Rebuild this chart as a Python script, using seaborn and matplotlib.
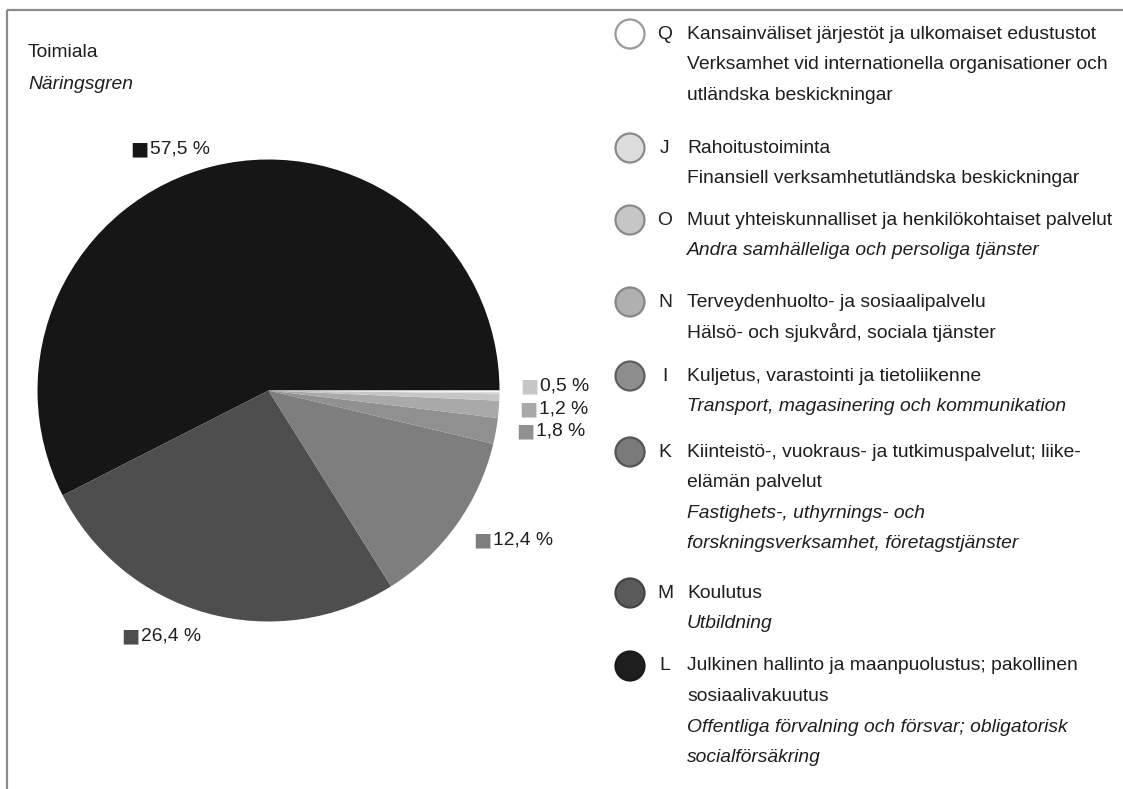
import matplotlib
matplotlib.use("Agg")
import numpy as np
import matplotlib.pyplot as plt
import seaborn as sns
from matplotlib import font_manager
from matplotlib.patches import Circle

# ------------------------------------------
# data
# ------------------------------------------
codes = ["L", "M", "K", "I", "N", "O", "J", "Q"]
shares = [57.5, 26.4, 12.4, 1.8, 1.2, 0.5, 0.1, 0.1]
share_labels = ["57,5 %", "26,4 %", "12,4 %", "1,8 %", "1,2 %", "0,5 %", "", ""]
slice_colors = ["#161616", "#4e4e4e", "#7e7e7e", "#909090", "#a9a9a9", "#c6c6c6", "#dedede", "#f6f6f6"]

legend_codes = ["Q", "J", "O", "N", "I", "K", "M", "L"]
legend_fi = [
    "Kansainväliset järjestöt ja ulkomaiset edustustot",
    "Rahoitustoiminta",
    "Muut yhteiskunnalliset ja henkilökohtaiset palvelut",
    "Terveydenhuolto- ja sosiaalipalvelu",
    "Kuljetus, varastointi ja tietoliikenne",
    "Kiinteistö-, vuokraus- ja tutkimuspalvelut; liike-\nelämän palvelut",
    "Koulutus",
    "Julkinen hallinto ja maanpuolustus; pakollinen\nsosiaalivakuutus",
]
legend_sv = [
    "Verksamhet vid internationella organisationer och\nutländska beskickningar",
    "Finansiell verksamhetutländska beskickningar",
    "Andra samhälleliga och persoliga tjänster",
    "Hälsö- och sjukvård, sociala tjänster",
    "Transport, magasinering och kommunikation",
    "Fastighets-, uthyrnings- och\nforskningsverksamhet, företagstjänster",
    "Utbildning",
    "Offentliga förvalning och försvar; obligatorisk\nsocialförsäkring",
]
legend_sv_italic = [False, False, True, False, True, True, True, True]
legend_fill = ["#ffffff", "#dcdcdc", "#c6c6c6", "#b0b0b0", "#8e8e8e", "#7a7a7a", "#5a5a5a", "#1e1e1e"]
legend_edge = ["#9a9a9a", "#8a8a8a", "#8a8a8a", "#888888", "#5e5e5e", "#555555", "#444444", "#1a1a1a"]

title_fi = "Toimiala"
title_sv = "Näringsgren"

# ------------------------------------------
# style
# ------------------------------------------
sns.set_theme(style="white")
installed = {f.name for f in font_manager.fontManager.ttflist}
family = [f for f in ["Liberation Sans Narrow", "Liberation Sans", "DejaVu Sans"] if f in installed]
plt.rcParams["font.family"] = family
FS = 13.9
TXT = "#1e1e1e"

W, H = 1123, 789
fig = plt.figure(figsize=(W / 100, H / 100), dpi=100)
ax = fig.add_axes([0, 0, 1, 1])


def Y(y):
    # pixel rows from the top -> axis units
    return H - y


# frame (top and left edges visible)
ax.plot([7, W + 5], [Y(10), Y(10)], color="#8a8a8a", lw=1.6, solid_capstyle="butt")
ax.plot([7, 7], [Y(10), Y(H + 5)], color="#8a8a8a", lw=1.6, solid_capstyle="butt")

# title
ax.text(28, Y(52), title_fi, fontsize=FS, ha="left", va="center", color=TXT)
ax.text(28, Y(84), title_sv, fontsize=FS, ha="left", va="center", style="italic", color=TXT)

# ------------------------------------------
# pie
# ------------------------------------------
cx, cy, R = 268.5, Y(390.5), 231
wedges, _ = ax.pie(shares, colors=slice_colors, startangle=0, counterclock=True,
                   center=(cx, cy), radius=R, wedgeprops=dict(linewidth=0))

# labels: square + value, placed just outside the slice middle
label_pos = []
for w in wedges:
    mid = np.deg2rad((w.theta1 + w.theta2) / 2)
    label_pos.append([cx + 1.09 * R * np.cos(mid), cy + 1.09 * R * np.sin(mid) - 3, np.cos(mid)])

# stack the three thin slices (I, N, O) above each other
base_y = label_pos[3][1]
for k, i in enumerate([3, 4, 5]):
    label_pos[i][1] = base_y + 6.5 + k * 22.5

for (x, y, side), lab, col in zip(label_pos, share_labels, slice_colors):
    if not lab:
        continue
    if side >= 0:
        sq = ax.text(x, y, "■", fontsize=FS, family="DejaVu Sans", color=col,
                     ha="left", va="center")
        ax.annotate(lab, xy=(1, 0.5), xycoords=sq, xytext=(1, 0), textcoords="offset points",
                    fontsize=FS, ha="left", va="center", color=TXT)
    else:
        num = ax.text(x, y, lab, fontsize=FS, ha="right", va="center", color=TXT)
        ax.annotate("■", xy=(0, 0.5), xycoords=num, xytext=(-1, 0), textcoords="offset points",
                    fontsize=FS, family="DejaVu Sans", color=col, ha="right", va="center")

# ------------------------------------------
# legend
# ------------------------------------------
row_top = [34, 148, 220, 302, 376, 452, 593, 666]
line_h = 30.5
for code, fi, sv, ital, fc, ec, y0 in zip(legend_codes, legend_fi, legend_sv, legend_sv_italic,
                                          legend_fill, legend_edge, row_top):
    ax.add_patch(Circle((630, Y(y0)), 14.5, facecolor=fc, edgecolor=ec, lw=1.6))
    ax.text(665, Y(y0), code, fontsize=FS, ha="center", va="center", color=TXT)
    lines = [(t, False) for t in fi.split("\n")] + [(t, ital) for t in sv.split("\n")]
    for k, (t, it) in enumerate(lines):
        ax.text(687, Y(y0 + k * line_h), t, fontsize=FS, ha="left", va="center",
                style="italic" if it else "normal", color=TXT)

ax.set_xlim(0, W)
ax.set_ylim(0, H)
ax.set_aspect("equal")
ax.axis("off")

fig.savefig("out.png", dpi=100)
